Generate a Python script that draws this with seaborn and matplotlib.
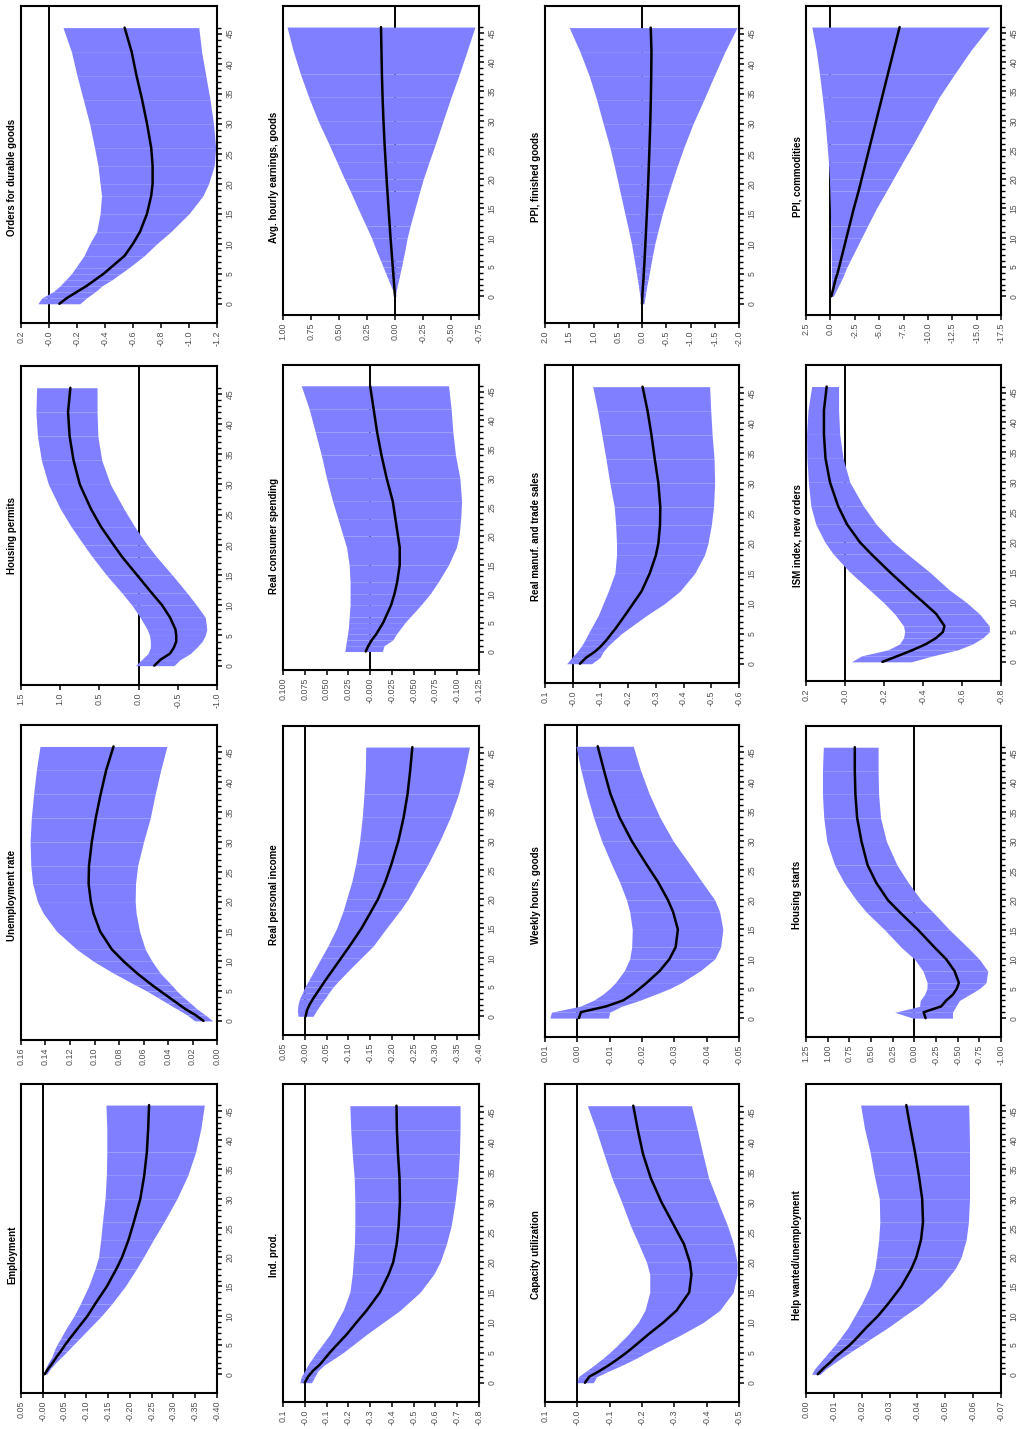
import matplotlib
matplotlib.use("Agg")
import matplotlib.pyplot as plt
from matplotlib import font_manager
import numpy as np
import pandas as pd
import seaborn as sns

# ---------------- data ----------------
horizon = [0, 1, 2, 3, 4, 5, 6, 8, 10, 12, 15, 18, 20, 23, 26, 30, 34, 38, 42, 46]

# Orders for durable goods
od_med = [-0.074, -0.13, -0.2, -0.27, -0.33, -0.39, -0.44, -0.54, -0.6, -0.65, -0.7, -0.73, -0.74, -0.74, -0.73, -0.7, -0.665, -0.625, -0.59, -0.54]
od_hi = [0.08, 0.05, -0.03, -0.08, -0.12, -0.16, -0.19, -0.25, -0.29, -0.34, -0.365, -0.375, -0.365, -0.35, -0.325, -0.29, -0.245, -0.2, -0.16, -0.1]
od_lo = [-0.22, -0.27, -0.33, -0.38, -0.45, -0.51, -0.57, -0.68, -0.77, -0.87, -1.0, -1.1, -1.14, -1.18, -1.19, -1.175, -1.15, -1.12, -1.09, -1.07]
od_ticks = ["0.2", "-0.0", "-0.2", "-0.4", "-0.6", "-0.8", "-1.0", "-1.2"]

# Avg. hourly earnings, goods
ah_med = [0.0, 0.004, 0.008, 0.012, 0.016, 0.02, 0.024, 0.032, 0.04, 0.047, 0.058, 0.068, 0.075, 0.084, 0.093, 0.103, 0.111, 0.117, 0.121, 0.125]
ah_hi = [0.0, 0.02, 0.042, 0.063, 0.085, 0.106, 0.127, 0.17, 0.21, 0.258, 0.33, 0.4, 0.45, 0.52, 0.59, 0.687, 0.77, 0.845, 0.91, 0.964]
ah_lo = [0.0, -0.012, -0.023, -0.035, -0.046, -0.058, -0.068, -0.09, -0.109, -0.135, -0.178, -0.222, -0.252, -0.305, -0.36, -0.43, -0.5, -0.575, -0.645, -0.714]
ah_ticks = ["1.00", "0.75", "0.50", "0.25", "0.00", "-0.25", "-0.50", "-0.75"]

# PPI, finished goods
pf_med = [0.0, -0.005, -0.012, -0.02, -0.03, -0.037, -0.044, -0.057, -0.07, -0.082, -0.1, -0.117, -0.127, -0.141, -0.154, -0.17, -0.182, -0.19, -0.195, -0.18]
pf_hi = [0.02, 0.04, 0.057, 0.075, 0.094, 0.113, 0.133, 0.175, 0.216, 0.27, 0.353, 0.435, 0.49, 0.573, 0.66, 0.8, 0.935, 1.09, 1.28, 1.5]
pf_lo = [-0.04, -0.06, -0.08, -0.1, -0.125, -0.148, -0.17, -0.216, -0.264, -0.325, -0.42, -0.53, -0.607, -0.73, -0.86, -1.053, -1.275, -1.49, -1.71, -1.96]
pf_ticks = ["2.0", "1.5", "1.0", "0.5", "0.0", "-0.5", "-1.0", "-1.5", "-2.0"]

# PPI, commodities
pc_med = [-0.1, -0.25, -0.4, -0.55, -0.75, -0.9, -1.05, -1.35, -1.65, -1.95, -2.4, -2.9, -3.2, -3.65, -4.1, -4.7, -5.3, -5.9, -6.5, -7.1]
pc_hi = [-0.05, -0.08, -0.1, -0.1, -0.1, -0.1, -0.1, -0.08, -0.05, -0.03, 0.0, 0.06, 0.1, 0.2, 0.35, 0.55, 0.82, 1.12, 1.45, 1.9]
pc_lo = [-0.3, -0.6, -0.9, -1.2, -1.45, -1.7, -2.0, -2.6, -3.2, -3.8, -4.72, -5.75, -6.43, -7.45, -8.5, -9.83, -11.15, -12.75, -14.4, -16.3]
pc_ticks = ["2.5", "0.0", "-2.5", "-5.0", "-7.5", "-10.0", "-12.5", "-15.0", "-17.5"]

# Housing permits
hp_med = [-0.2, -0.28, -0.4, -0.45, -0.48, -0.48, -0.47, -0.4, -0.3, -0.17, 0.02, 0.21, 0.32, 0.48, 0.61, 0.75, 0.83, 0.88, 0.9, 0.87]
hp_hi = [0.04, -0.04, -0.12, -0.15, -0.15, -0.14, -0.11, -0.02, 0.085, 0.21, 0.41, 0.59, 0.7, 0.86, 1.0, 1.15, 1.24, 1.29, 1.31, 1.3]
hp_lo = [-0.45, -0.53, -0.66, -0.74, -0.81, -0.85, -0.87, -0.85, -0.74, -0.62, -0.43, -0.23, -0.11, 0.05, 0.19, 0.36, 0.47, 0.52, 0.53, 0.53]
hp_ticks = ["1.5", "1.0", "0.5", "0.0", "-0.5", "-1.0"]

# Real consumer spending
rc_med = [0.005, 0.002, -0.002, -0.007, -0.011, -0.015, -0.018, -0.024, -0.028, -0.031, -0.034, -0.034, -0.032, -0.029, -0.026, -0.019, -0.013, -0.008, -0.004, 0.0]
rc_hi = [0.029, 0.028, 0.027, 0.026, 0.025, 0.0245, 0.024, 0.023, 0.023, 0.023, 0.024, 0.027, 0.031, 0.037, 0.043, 0.05, 0.056, 0.063, 0.07, 0.079]
rc_lo = [-0.014, -0.016, -0.026, -0.03, -0.035, -0.04, -0.046, -0.058, -0.069, -0.078, -0.09, -0.099, -0.102, -0.104, -0.105, -0.103, -0.098, -0.095, -0.093, -0.09]
rc_ticks = ["0.100", "0.075", "0.050", "0.025", "-0.000", "-0.025", "-0.050", "-0.075", "-0.100", "-0.125"]

# Real manuf. and trade sales
rm_med = [-0.026, -0.048, -0.08, -0.104, -0.123, -0.14, -0.157, -0.188, -0.218, -0.248, -0.278, -0.3, -0.309, -0.315, -0.316, -0.309, -0.296, -0.284, -0.27, -0.252]
rm_hi = [0.022, 0.004, -0.016, -0.032, -0.045, -0.056, -0.068, -0.092, -0.11, -0.128, -0.152, -0.158, -0.158, -0.155, -0.15, -0.134, -0.12, -0.105, -0.09, -0.072]
rm_lo = [-0.068, -0.098, -0.11, -0.128, -0.152, -0.176, -0.206, -0.266, -0.332, -0.386, -0.44, -0.475, -0.488, -0.5, -0.508, -0.512, -0.51, -0.503, -0.498, -0.494]
rm_ticks = ["0.1", "-0.0", "-0.1", "-0.2", "-0.3", "-0.4", "-0.5", "-0.6"]

# ISM index, new orders
ism_med = [-0.192, -0.272, -0.349, -0.417, -0.468, -0.502, -0.51, -0.468, -0.4, -0.33, -0.23, -0.135, -0.076, -0.01, 0.035, 0.077, 0.1, 0.108, 0.108, 0.094]
ism_hi = [-0.033, -0.085, -0.22, -0.28, -0.3, -0.306, -0.3, -0.255, -0.195, -0.127, -0.025, 0.06, 0.103, 0.15, 0.175, 0.188, 0.195, 0.197, 0.19, 0.171]
ism_lo = [-0.34, -0.45, -0.578, -0.655, -0.706, -0.74, -0.74, -0.69, -0.62, -0.536, -0.434, -0.32, -0.246, -0.16, -0.095, -0.025, 0.01, 0.027, 0.033, 0.033]
ism_ticks = ["0.2", "-0.0", "-0.2", "-0.4", "-0.6", "-0.8"]

# Unemployment rate
ur_med = [0.011, 0.0177, 0.0259, 0.0327, 0.0395, 0.0463, 0.053, 0.0654, 0.0763, 0.0859, 0.0954, 0.1008, 0.103, 0.1048, 0.1045, 0.1022, 0.099, 0.095, 0.0905, 0.0845]
ur_hi = [0.0182, 0.0245, 0.0327, 0.0409, 0.049, 0.0572, 0.0665, 0.0845, 0.1008, 0.1145, 0.1308, 0.1417, 0.1466, 0.1505, 0.152, 0.1526, 0.1516, 0.1497, 0.1475, 0.1445]
ur_lo = [0.0035, 0.0095, 0.0163, 0.0218, 0.0275, 0.0327, 0.037, 0.0463, 0.0531, 0.0586, 0.0632, 0.066, 0.0668, 0.0665, 0.0648, 0.06, 0.0545, 0.0505, 0.046, 0.0409]
ur_ticks = ["0.16", "0.14", "0.12", "0.10", "0.08", "0.06", "0.04", "0.02", "0.00"]

# Real personal income
rpi_med = [-0.002, -0.005, -0.011, -0.019, -0.028, -0.037, -0.046, -0.065, -0.084, -0.103, -0.13, -0.153, -0.168, -0.185, -0.199, -0.215, -0.227, -0.236, -0.242, -0.247]
rpi_hi = [0.0155, 0.017, 0.0155, 0.012, 0.0055, 0.0, -0.008, -0.023, -0.038, -0.053, -0.073, -0.088, -0.096, -0.108, -0.117, -0.126, -0.132, -0.136, -0.139, -0.14]
rpi_lo = [-0.019, -0.027, -0.036, -0.046, -0.055, -0.065, -0.077, -0.103, -0.13, -0.157, -0.187, -0.218, -0.237, -0.26, -0.283, -0.31, -0.334, -0.353, -0.367, -0.378]
rpi_ticks = ["0.05", "-0.00", "-0.05", "-0.10", "-0.15", "-0.20", "-0.25", "-0.30", "-0.35", "-0.40"]

# Weekly hours, goods
wh_med = [-0.0005, -0.0011, -0.009, -0.0142, -0.017, -0.0193, -0.0215, -0.0255, -0.0285, -0.0304, -0.0311, -0.0296, -0.028, -0.025, -0.0214, -0.0168, -0.013, -0.0102, -0.0082, -0.0063]
wh_hi = [0.0085, 0.008, -0.0008, -0.005, -0.0078, -0.01, -0.0118, -0.0145, -0.0162, -0.0168, -0.017, -0.0162, -0.0152, -0.0131, -0.0106, -0.0075, -0.005, -0.0029, -0.0011, 0.0004]
wh_lo = [-0.0096, -0.01, -0.0137, -0.0193, -0.024, -0.0286, -0.0322, -0.038, -0.0425, -0.0443, -0.045, -0.044, -0.0425, -0.0386, -0.0348, -0.0296, -0.0255, -0.0222, -0.0195, -0.0173]
wh_ticks = ["0.01", "0.00", "-0.01", "-0.02", "-0.03", "-0.04", "-0.05"]

# Housing starts
hs_med = [-0.13, -0.107, -0.31, -0.368, -0.445, -0.49, -0.514, -0.464, -0.368, -0.234, -0.042, 0.169, 0.303, 0.44, 0.54, 0.61, 0.66, 0.68, 0.687, 0.687]
hs_hi = [0.016, 0.226, -0.06, -0.068, -0.118, -0.145, -0.148, -0.1, -0.004, 0.15, 0.342, 0.553, 0.667, 0.81, 0.92, 1.01, 1.045, 1.06, 1.06, 1.05]
hs_lo = [-0.44, -0.44, -0.48, -0.52, -0.636, -0.75, -0.827, -0.847, -0.75, -0.617, -0.406, -0.214, -0.08, 0.07, 0.2, 0.322, 0.39, 0.412, 0.418, 0.418]
hs_ticks = ["1.25", "1.00", "0.75", "0.50", "0.25", "0.00", "-0.25", "-0.50", "-0.75", "-1.00"]

# Employment
em_med = [-0.004, -0.013, -0.023, -0.032, -0.042, -0.051, -0.061, -0.082, -0.103, -0.12, -0.147, -0.169, -0.182, -0.197, -0.209, -0.224, -0.233, -0.239, -0.242, -0.244]
em_hi = [-0.001, -0.006, -0.013, -0.021, -0.026, -0.032, -0.04, -0.055, -0.072, -0.086, -0.105, -0.12, -0.128, -0.133, -0.137, -0.143, -0.146, -0.147, -0.147, -0.145]
em_lo = [-0.009, -0.018, -0.03, -0.044, -0.057, -0.07, -0.083, -0.109, -0.135, -0.158, -0.189, -0.215, -0.231, -0.254, -0.278, -0.308, -0.333, -0.351, -0.363, -0.371]
em_ticks = ["0.05", "-0.00", "-0.05", "-0.10", "-0.15", "-0.20", "-0.25", "-0.30", "-0.35", "-0.40"]

# Ind. prod.
ip_med = [0.0, -0.015, -0.038, -0.069, -0.092, -0.115, -0.14, -0.192, -0.237, -0.284, -0.345, -0.385, -0.406, -0.422, -0.431, -0.437, -0.435, -0.428, -0.423, -0.421]
ip_hi = [0.023, 0.016, 0.0, -0.015, -0.034, -0.053, -0.074, -0.115, -0.145, -0.176, -0.207, -0.218, -0.222, -0.228, -0.23, -0.23, -0.227, -0.218, -0.211, -0.207]
ip_lo = [-0.031, -0.046, -0.061, -0.092, -0.135, -0.176, -0.212, -0.283, -0.36, -0.437, -0.529, -0.592, -0.621, -0.65, -0.672, -0.69, -0.703, -0.71, -0.713, -0.713]
ip_ticks = ["0.1", "-0.0", "-0.1", "-0.2", "-0.3", "-0.4", "-0.5", "-0.6", "-0.7", "-0.8"]

# Capacity utilization
cu_med = [-0.0235, -0.037, -0.07, -0.1, -0.127, -0.152, -0.175, -0.219, -0.266, -0.307, -0.346, -0.353, -0.348, -0.33, -0.3, -0.26, -0.227, -0.203, -0.187, -0.173]
cu_hi = [0.0, -0.003, -0.029, -0.054, -0.078, -0.1, -0.12, -0.157, -0.188, -0.209, -0.224, -0.224, -0.214, -0.19, -0.165, -0.137, -0.107, -0.082, -0.058, -0.031]
cu_lo = [-0.049, -0.06, -0.1, -0.142, -0.18, -0.214, -0.25, -0.322, -0.389, -0.44, -0.482, -0.494, -0.494, -0.483, -0.465, -0.435, -0.406, -0.388, -0.371, -0.353]
cu_ticks = ["0.1", "-0.0", "-0.1", "-0.2", "-0.3", "-0.4", "-0.5"]

# Help wanted/unemployment
hw_med = [-0.0042, -0.0062, -0.0086, -0.0107, -0.0132, -0.0157, -0.0178, -0.0217, -0.0259, -0.0294, -0.0342, -0.0378, -0.0396, -0.0413, -0.042, -0.0417, -0.0405, -0.0391, -0.0375, -0.036]
hw_hi = [-0.002, -0.0032, -0.005, -0.0068, -0.0086, -0.0104, -0.012, -0.0151, -0.0175, -0.0199, -0.0229, -0.0247, -0.0253, -0.0261, -0.0265, -0.0263, -0.0245, -0.023, -0.021, -0.0196]
hw_lo = [-0.005, -0.0074, -0.0104, -0.0134, -0.0166, -0.0199, -0.023, -0.0295, -0.0354, -0.0414, -0.0485, -0.0535, -0.0557, -0.0575, -0.0583, -0.0587, -0.0587, -0.0587, -0.0586, -0.0584]
hw_ticks = ["0.00", "-0.01", "-0.02", "-0.03", "-0.04", "-0.05", "-0.06", "-0.07"]

horizon_ticks = ["0", "5", "10", "15", "20", "25", "30", "35", "40", "45"]

# grid position (row, col) of each panel in the page, with its title
panels = [
    ("Orders for durable goods", od_med, od_lo, od_hi, od_ticks, 0, 0),
    ("Avg. hourly earnings, goods", ah_med, ah_lo, ah_hi, ah_ticks, 0, 1),
    ("PPI, finished goods", pf_med, pf_lo, pf_hi, pf_ticks, 0, 2),
    ("PPI, commodities", pc_med, pc_lo, pc_hi, pc_ticks, 0, 3),
    ("Housing permits", hp_med, hp_lo, hp_hi, hp_ticks, 1, 0),
    ("Real consumer spending", rc_med, rc_lo, rc_hi, rc_ticks, 1, 1),
    ("Real manuf. and trade sales", rm_med, rm_lo, rm_hi, rm_ticks, 1, 2),
    ("ISM index, new orders", ism_med, ism_lo, ism_hi, ism_ticks, 1, 3),
    ("Unemployment rate", ur_med, ur_lo, ur_hi, ur_ticks, 2, 0),
    ("Real personal income", rpi_med, rpi_lo, rpi_hi, rpi_ticks, 2, 1),
    ("Weekly hours, goods", wh_med, wh_lo, wh_hi, wh_ticks, 2, 2),
    ("Housing starts", hs_med, hs_lo, hs_hi, hs_ticks, 2, 3),
    ("Employment", em_med, em_lo, em_hi, em_ticks, 3, 0),
    ("Ind. prod.", ip_med, ip_lo, ip_hi, ip_ticks, 3, 1),
    ("Capacity utilization", cu_med, cu_lo, cu_hi, cu_ticks, 3, 2),
    ("Help wanted/unemployment", hw_med, hw_lo, hw_hi, hw_ticks, 3, 3),
]

# ---------------- layout (pixels) ----------------
W, HH = 1021, 1429
col_lr = [(21, 217), (283, 479), (545, 739), (806, 1001)]
box_tb = {
    (0, 0): (6, 323), (0, 1): (6, 315), (0, 2): (6, 323), (0, 3): (6, 315),
    (1, 0): (366, 685), (1, 1): (365, 670), (1, 2): (365, 683), (1, 3): (365, 681),
    (2, 0): (725, 1040), (2, 1): (726, 1035), (2, 2): (725, 1037), (2, 3): (726, 1037),
    (3, 0): (1084, 1393), (3, 1): (1084, 1402), (3, 2): (1084, 1402), (3, 3): (1084, 1393),
}
title_cy = [177, 536, 895, 1255]

sns.set_style("white")
names = {f.name for f in font_manager.fontManager.ttflist}
if "Liberation Sans Narrow" in names:
    FONT = ["Liberation Sans Narrow", "DejaVu Sans"]
    tick_fs, htick_fs, title_fs = 7.6, 7.0, 8.2
else:
    FONT = ["Liberation Sans", "DejaVu Sans"]
    tick_fs, htick_fs, title_fs = 6.4, 6.2, 7.0
plt.rcParams["font.family"] = FONT

BAND = "#7f7fff"
TICK_GREY = "#505050"

fig = plt.figure(figsize=(W / 100, HH / 100), dpi=100)
fig.patch.set_facecolor("white")

for title, med, lo, hi, ticks, r, c in panels:
    l, rr = col_lr[c]
    t, b = box_tb[(r, c)]
    ax = fig.add_axes([l / W, 1 - b / HH, (rr - l) / W, (b - t) / HH])
    ax.set_facecolor("white")

    ax.axvline(0, color="black", lw=1.4, zorder=1)
    for i in range(len(horizon) - 1):
        ax.fill_betweenx(horizon[i:i + 2], lo[i:i + 2], hi[i:i + 2],
                         color=BAND, lw=0, zorder=2, antialiased=True)
    df = pd.DataFrame({"h": horizon, "v": med})
    sns.lineplot(data=df, x="v", y="h", orient="y", ax=ax, color="black",
                 lw=1.8, zorder=3, estimator=None, sort=False)

    vals = [float(s) for s in ticks]
    ax.set_xlim(vals[0], vals[-1])
    ax.set_xticks(vals)
    ax.set_xticklabels(ticks, rotation=90, color=TICK_GREY, fontsize=tick_fs)
    ax.set_ylim(-3.2, 49.6)
    ax.yaxis.tick_right()
    hv = [int(s) for s in horizon_ticks]
    ax.set_yticks(hv)
    ax.set_yticklabels(horizon_ticks, rotation=90, va="center",
                       color=TICK_GREY, fontsize=htick_fs)
    ax.set_yticks(list(range(0, 47)), minor=True)
    ax.tick_params(axis="x", which="major", direction="out", length=3.5,
                   width=1.1, color="black", pad=2, bottom=True, top=False)
    ax.tick_params(axis="y", which="major", direction="out", length=3.8,
                   width=1.1, color="black", pad=2.5, right=True, left=False,
                   labelright=True, labelleft=False)
    ax.tick_params(axis="y", which="minor", direction="out", length=2.6,
                   width=1.0, color="black", right=True, left=False)
    ax.set_xlabel("")
    ax.set_ylabel("")
    for sp in ax.spines.values():
        sp.set_visible(True)
        sp.set_color("black")
        sp.set_linewidth(1.5)

    fig.text((l - 9) / W, 1 - title_cy[r] / HH, title, rotation=90,
             ha="center", va="center", fontsize=title_fs, fontweight="bold",
             color="black")

fig.savefig("out.png", dpi=100, facecolor="white")
